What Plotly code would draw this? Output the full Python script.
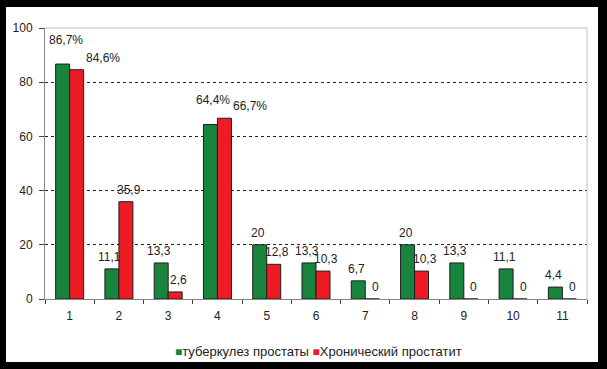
import plotly.graph_objects as go

categories = ["1", "2", "3", "4", "5", "6", "7", "8", "9", "10", "11"]
tb_values = [86.7, 11.1, 13.3, 64.4, 20, 13.3, 6.7, 20, 13.3, 11.1, 4.4]
cp_values = [84.6, 35.9, 2.6, 66.7, 12.8, 10.3, 0, 10.3, 0, 0, 0]
tb_labels = ["86,7%", "11,1", "13,3", "64,4%", "20", "13,3", "6,7", "20", "13,3", "11,1", "4,4"]
cp_labels = ["84,6%", "35,9", "2,6", "66,7%", "12,8", "10,3", "0", "10,3", "0", "0", "0"]
y_ticks = [0, 20, 40, 60, 80, 100]
series_names = ["туберкулез простаты", "Хронический простатит"]

GREEN = "#19843d"
RED = "#ed1c24"
FONT = "Arial, Liberation Sans, sans-serif"
TXT = "#222222"

fig = go.Figure()
fig.add_trace(go.Bar(x=categories, y=tb_values, name=series_names[0],
                     marker=dict(color=GREEN, line=dict(color="#1e1e1e", width=1))))
fig.add_trace(go.Bar(x=categories, y=cp_values, name=series_names[1],
                     marker=dict(color=RED, line=dict(color="#1e1e1e", width=1))))

annotations = []
for i, (v, t) in enumerate(zip(tb_values, tb_labels)):
    pct = t.endswith("%")
    annotations.append(dict(x=i, y=v, xref="x", yref="y", text=t, showarrow=False,
                            xanchor="center", yanchor="bottom",
                            xshift=-4 if pct else -9, yshift=15 if pct else 3,
                            font=dict(family=FONT, size=12, color=TXT)))
for i, (v, t) in enumerate(zip(cp_values, cp_labels)):
    pct = t.endswith("%")
    annotations.append(dict(x=i, y=v, xref="x", yref="y", text=t, showarrow=False,
                            xanchor="center", yanchor="bottom",
                            xshift=33 if pct else 10, yshift=3,
                            font=dict(family=FONT, size=12, color=TXT)))

legend_text = (f"<span style='color:{GREEN};font-size:12px'>■</span>{series_names[0]} "
               f"<span style='color:{RED};font-size:12px'>■</span>{series_names[1]}")
annotations.append(dict(x=0.5055, y=-0.192, xref="paper", yref="paper", text=legend_text,
                        showarrow=False, xanchor="center", yanchor="middle",
                        font=dict(family=FONT, size=13, color=TXT)))

shapes = [
    dict(type="rect", xref="paper", yref="paper", x0=-0.072, x1=1.0203, y0=-0.2325, y1=1.0775,
         fillcolor="white", line=dict(width=0), layer="below"),
    dict(type="line", xref="paper", yref="paper", x0=0, x1=1, y0=1, y1=1,
         line=dict(color="#c0c0c0", width=1), layer="above"),
    dict(type="line", xref="paper", yref="paper", x0=1, x1=1, y0=0, y1=1,
         line=dict(color="#c0c0c0", width=1), layer="above"),
]

fig.update_layout(
    width=607, height=369,
    margin=dict(l=45, r=20, t=28, b=70),
    paper_bgcolor="black",
    plot_bgcolor="white",
    barmode="group",
    bargap=0.432,
    bargroupgap=0,
    showlegend=False,
    annotations=annotations,
    shapes=shapes,
    font=dict(family=FONT, size=12, color=TXT),
)
fig.update_xaxes(type="category", range=[-0.5, len(categories) - 0.5], autorange=False,
                 showline=True, linecolor="#868686", linewidth=1,
                 ticks="outside", tickson="boundaries", ticklen=4, tickcolor="#444444",
                 showgrid=False, tickfont=dict(family=FONT, size=12, color=TXT),
                 ticklabelstandoff=6)
fig.update_yaxes(range=[0, 100], autorange=False, tickvals=y_ticks, showline=True,
                 linecolor="#868686", linewidth=1, ticks="outside", ticklen=5,
                 tickcolor="#444444", showgrid=True, gridcolor="#222222",
                 griddash="3px,3px", gridwidth=1, zeroline=False,
                 tickfont=dict(family=FONT, size=12, color=TXT), ticklabelstandoff=4)

fig.write_html("out.html", config={"displayModeBar": False},
               post_script="document.body.style.margin='0';")
